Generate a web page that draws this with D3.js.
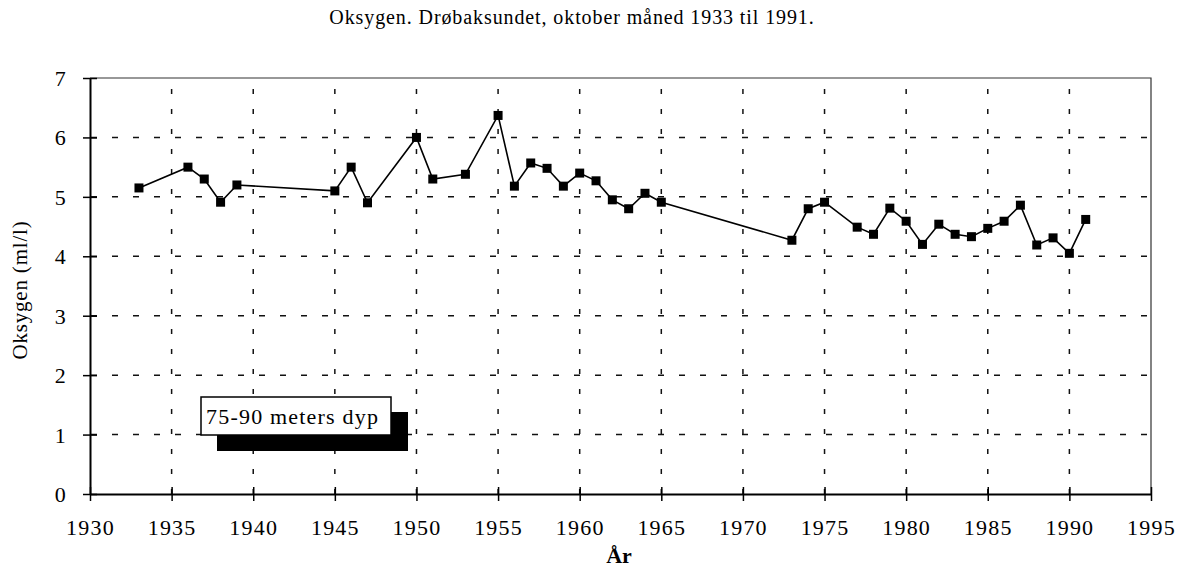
<!DOCTYPE html>
<html>
<head>
<meta charset="utf-8">
<script src="https://cdn.jsdelivr.net/npm/d3@7"></script>
<style>
  body { margin: 0; background: #fff; }
  svg text { font-family: "Liberation Serif", "Times New Roman", serif; fill: #000; }
</style>
</head>
<body>
<svg width="1184" height="581"></svg>
<script>
/* Oksygen, Drøbaksundet - oktober */
var years = [1933, 1936, 1937, 1938, 1939, 1945, 1946, 1947, 1950, 1951, 1953,
             1955, 1956, 1957, 1958, 1959, 1960, 1961, 1962, 1963, 1964, 1965,
             1973, 1974, 1975, 1977, 1978, 1979, 1980, 1981, 1982, 1983, 1984,
             1985, 1986, 1987, 1988, 1989, 1990, 1991];
var oxygen = [5.15, 5.50, 5.30, 4.91, 5.20, 5.10, 5.50, 4.90, 6.00, 5.30, 5.38,
              6.37, 5.18, 5.57, 5.48, 5.18, 5.40, 5.27, 4.95, 4.80, 5.06, 4.91,
              4.27, 4.80, 4.91, 4.49, 4.37, 4.81, 4.59, 4.20, 4.54, 4.37, 4.33,
              4.47, 4.59, 4.86, 4.19, 4.31, 4.05, 4.62];
var xTicks = [1930, 1935, 1940, 1945, 1950, 1955, 1960, 1965, 1970, 1975, 1980, 1985, 1990, 1995];
var yTicks = [0, 1, 2, 3, 4, 5, 6, 7];

var title = "Oksygen. Drøbaksundet, oktober måned 1933 til 1991.";
var xLabel = "År";
var yLabel = "Oksygen (ml/l)";
var legendLabel = "75-90 meters dyp";

var svg = d3.select("svg");

var x = d3.scaleLinear().domain([1930, 1995]).range([90, 1151]);
var y = d3.scaleLinear().domain([0, 7]).range([494, 78]);

var data = years.map(function(d, i) { return { year: d, value: oxygen[i] }; });

// grid
var grid = svg.append("g").attr("class", "grid");
grid.selectAll("line.h")
    .data(yTicks.slice(1, -1))
    .enter().append("line")
    .attr("class", "h")
    .attr("x1", x(1930)).attr("x2", x(1995))
    .attr("y1", function(d) { return y(d); })
    .attr("y2", function(d) { return y(d); })
    .attr("stroke", "#111").attr("stroke-width", 1.5)
    .attr("stroke-dasharray", "6,15").attr("stroke-dashoffset", -1);
grid.selectAll("line.v")
    .data(xTicks.slice(1, -1))
    .enter().append("line")
    .attr("class", "v")
    .attr("x1", function(d) { return x(d); })
    .attr("x2", function(d) { return x(d); })
    .attr("y1", y(7)).attr("y2", y(0))
    .attr("stroke", "#111").attr("stroke-width", 1.5)
    .attr("stroke-dasharray", "5,15").attr("stroke-dashoffset", -11);

// top / right frame
svg.append("path")
   .attr("d", "M" + x(1930) + "," + y(7) + "H" + x(1995) + "V" + y(0))
   .attr("fill", "none").attr("stroke", "#333").attr("stroke-width", 1.2);

// axes
var xAxis = svg.append("g")
    .attr("transform", "translate(0," + y(0) + ")")
    .call(d3.axisBottom(x).tickValues(xTicks).tickFormat(d3.format("d"))
            .tickSizeInner(6).tickSizeOuter(0).tickPadding(19));
var yAxis = svg.append("g")
    .attr("transform", "translate(" + x(1930) + ",0)")
    .call(d3.axisLeft(y).tickValues(yTicks).tickFormat(d3.format("d"))
            .tickSizeInner(6).tickSizeOuter(0).tickPadding(17));

[xAxis, yAxis].forEach(function(a) {
  a.select(".domain").attr("stroke", "#000").attr("stroke-width", 2);
  a.selectAll(".tick line").attr("stroke", "#000").attr("stroke-width", 1.5);
  a.selectAll(".tick text")
   .attr("font-size", 22).attr("letter-spacing", 1.2).attr("fill", "#000");
});
// ticks cross the axis lines
xAxis.selectAll(".tick line").attr("y1", -7).attr("y2", 7);
yAxis.selectAll(".tick line").attr("x1", -7).attr("x2", 7);
yAxis.selectAll(".tick text").attr("dy", "0.34em");

// line + markers
var line = d3.line()
    .x(function(d) { return x(d.year); })
    .y(function(d) { return y(d.value); });

svg.append("path")
   .datum(data)
   .attr("d", line)
   .attr("fill", "none")
   .attr("stroke", "#000")
   .attr("stroke-width", 1.6);

svg.append("g").selectAll("rect")
   .data(data)
   .enter().append("rect")
   .attr("x", function(d) { return x(d.year) - 4.5; })
   .attr("y", function(d) { return y(d.value) - 4.5; })
   .attr("width", 9).attr("height", 9)
   .attr("fill", "#000");

// legend box with shadow
var lg = svg.append("g").attr("transform", "translate(201,397)");
lg.append("rect").attr("x", 16).attr("y", 15).attr("width", 191).attr("height", 39).attr("fill", "#000");
lg.append("rect").attr("width", 190).attr("height", 38)
  .attr("fill", "#fff").attr("stroke", "#000").attr("stroke-width", 1.5);
lg.append("text").attr("x", 5).attr("y", 27)
  .attr("font-size", 22).attr("letter-spacing", 1.2)
  .text(legendLabel);

// titles
svg.append("text")
   .attr("x", 572).attr("y", 24)
   .attr("text-anchor", "middle")
   .attr("font-size", 20).attr("letter-spacing", 0.9)
   .text(title);

svg.append("text")
   .attr("x", 619).attr("y", 563)
   .attr("text-anchor", "middle")
   .attr("font-size", 22).attr("font-weight", "bold")
   .text(xLabel);

svg.append("text")
   .attr("transform", "translate(27,290) rotate(-90)")
   .attr("text-anchor", "middle")
   .attr("font-size", 21).attr("letter-spacing", 0.8)
   .text(yLabel);
</script>
</body>
</html>
